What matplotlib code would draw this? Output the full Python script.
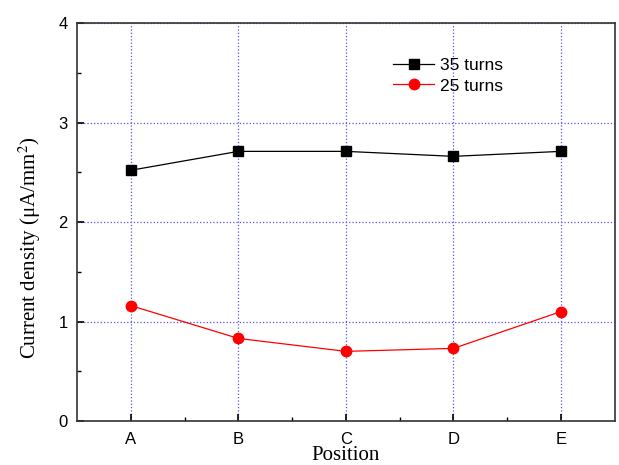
import matplotlib
matplotlib.use("Agg")
import matplotlib.pyplot as plt
from matplotlib.ticker import MultipleLocator

positions = ["A", "B", "C", "D", "E"]
turns35 = [2.52, 2.71, 2.71, 2.66, 2.71]
turns25 = [1.16, 0.83, 0.70, 0.73, 1.10]

plt.rcParams['mathtext.fontset'] = 'stix'

fig = plt.figure(figsize=(6.19, 4.65), dpi=100)
ax = fig.add_axes([0.1244, 0.0946, 0.8688, 0.8559])

x = list(range(len(positions)))
ax.plot(x, turns35, color='black', lw=0.9, marker='s', ms=6.5, label='35 turns')
ax.plot(x, turns25, color='red', lw=0.9, marker='o', ms=7.5, label='25 turns')

ax.set_xlim(-0.5, 4.5)
ax.set_ylim(0, 4)
ax.set_xticks(x)
ax.set_xticklabels(positions)
ax.set_xticks([0.5, 1.5, 2.5, 3.5], minor=True)
ax.yaxis.set_major_locator(MultipleLocator(1))
ax.yaxis.set_minor_locator(MultipleLocator(0.5))

ax.grid(True, which='major', color='#5555ee', linestyle=':', lw=0.9)
ax.tick_params(which='both', direction='in', top=False, right=False)
ax.tick_params(which='major', length=5, width=1.2, labelsize=12)
ax.tick_params(axis='x', which='major', pad=8)
ax.tick_params(axis='y', which='major', pad=6.5)
ax.tick_params(which='minor', length=3, width=1)
for lab in ax.get_xticklabels() + ax.get_yticklabels():
    lab.set_family('Liberation Sans')
for s in ax.spines.values():
    s.set_linewidth(1.2)
    s.set_color('#333333')

ax.set_xlabel('Position', family='Liberation Serif', fontsize=15)
ax.xaxis.set_label_coords(0.5, -0.062)
ax.set_ylabel('Current density (μA/mm$^2$)', family='Liberation Serif', fontsize=15)
ax.yaxis.set_label_coords(-0.064, 0.435)

leg = ax.legend(loc='upper left', bbox_to_anchor=(0.587, 0.912), frameon=False,
                prop={'family': 'Liberation Sans', 'size': 12.5}, handlelength=2.4,
                handletextpad=0.35, labelspacing=0.3, borderpad=0, borderaxespad=0)

fig.savefig('out.png', dpi=100)
